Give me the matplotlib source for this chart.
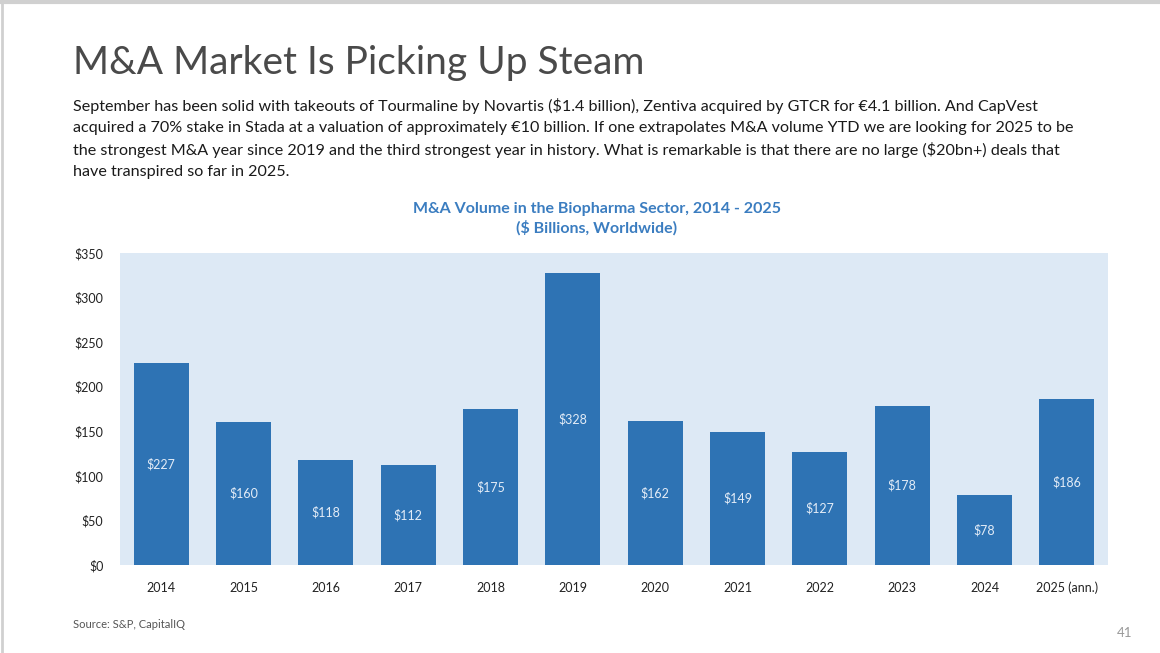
import matplotlib
matplotlib.use("Agg")
import matplotlib.pyplot as plt
from matplotlib.lines import Line2D

years = ["2014", "2015", "2016", "2017", "2018", "2019", "2020",
         "2021", "2022", "2023", "2024", "2025 (ann.)"]
volume = [227, 160, 118, 112, 175, 328, 162, 149, 127, 178, 78, 186]
yticks = [0, 50, 100, 150, 200, 250, 300, 350]

body = [
    "September has been solid with takeouts of Tourmaline by Novartis ($1.4 billion), Zentiva acquired by GTCR for €4.1 billion. And CapVest",
    "acquired a 70% stake in Stada at a valuation of approximately €10 billion. If one extrapolates M&A volume YTD we are looking for 2025 to be",
    "the strongest M&A year since 2019 and the third strongest year in history. What is remarkable is that there are no large ($20bn+) deals that",
    "have transpired so far in 2025.",
]

plt.rcParams['font.family'] = ['Lato', 'DejaVu Sans']

fig = plt.figure(figsize=(11.6, 6.53), dpi=100)
fig.patch.set_facecolor("white")

# page frame lines (top and left)
fig.add_artist(Line2D([0, 1], [0.997, 0.997], color="#d0d0d0", lw=3, transform=fig.transFigure))
fig.add_artist(Line2D([0.002, 0.002], [0, 1], color="#d0d0d0", lw=2, transform=fig.transFigure))

fig.text(73 / 1160, 1 - 63 / 653, "M&A Market Is Picking Up Steam", fontsize=28,
         fontweight="normal", color="#4a4a4a", va="center", ha="left")

for i, line in enumerate(body):
    fig.text(73 / 1160, 1 - (106 + i * 22) / 653, line, fontsize=11.6,
             color="#1a1a1a", va="center", ha="left")

fig.text(597 / 1160, 1 - 209 / 653, "M&A Volume in the Biopharma Sector, 2014 - 2025",
         fontsize=11.5, fontweight="bold", color="#3b7dc0", ha="center", va="center")
fig.text(597 / 1160, 1 - 228 / 653, "($ Billions, Worldwide)",
         fontsize=11.5, fontweight="bold", color="#3b7dc0", ha="center", va="center")

ax = fig.add_axes([120 / 1160, 1 - 565 / 653, 988 / 1160, 312 / 653])
ax.set_facecolor("#dde9f5")
x = list(range(len(years)))
bars = ax.bar(x, volume, width=0.67, color="#2e73b4", zorder=2)

for xi, v in zip(x, volume):
    ax.text(xi, v / 2, "$" + str(v), ha="center", va="center",
            color="#e3ecf7", fontsize=9, zorder=3)

ax.set_xlim(-0.5, len(years) - 0.5)
ax.set_ylim(0, 350)
ax.set_yticks(yticks)
ax.set_yticklabels(["$" + str(t) for t in yticks], fontsize=9, color="#222222")
ax.set_xticks(x)
ax.set_xticklabels(years, fontsize=9, color="#222222")
ax.tick_params(length=0)
ax.tick_params(axis="y", pad=12)
ax.tick_params(axis="x", pad=12)
for s in ax.spines.values():
    s.set_visible(False)

fig.text(73 / 1160, 1 - 625 / 653, "Source: S&P, CapitalIQ", fontsize=8,
         color="#555555", ha="left", va="center")
fig.text(1125 / 1160, 1 - 633 / 653, "41", fontsize=9.5, color="#999999",
         ha="center", va="center")

fig.savefig("out.png", dpi=100)
